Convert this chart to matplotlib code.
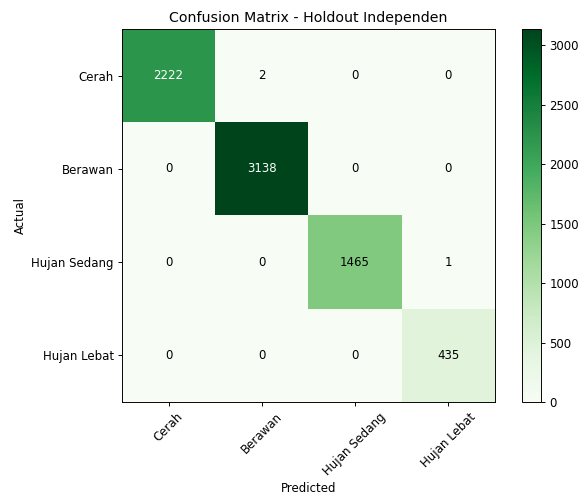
import numpy as np
import matplotlib
matplotlib.use("Agg")
import matplotlib.pyplot as plt

classes = ["Cerah", "Berawan", "Hujan Sedang", "Hujan Lebat"]
row_cerah = [2222, 2, 0, 0]
row_berawan = [0, 3138, 0, 0]
row_hujan_sedang = [0, 0, 1465, 1]
row_hujan_lebat = [0, 0, 0, 435]

cm = np.array([row_cerah, row_berawan, row_hujan_sedang, row_hujan_lebat])

DPI = 85
fig = plt.figure(figsize=(580 / DPI, 492 / DPI), dpi=DPI)
ax = fig.add_axes([0.2103, 0.183, 0.643, 0.758])
im = ax.imshow(cm, interpolation="nearest", cmap=plt.cm.Greens, aspect="auto")
ax.set_title("Confusion Matrix - Holdout Independen")

cax = fig.add_axes([0.9, 0.183, 0.033, 0.758])
fig.colorbar(im, cax=cax)

ticks = np.arange(len(classes))
ax.set_xticks(ticks)
ax.set_xticklabels(classes, rotation=45)
ax.set_yticks(ticks)
ax.set_yticklabels(classes)

thresh = cm.max() / 2.0
for i in range(cm.shape[0]):
    for j in range(cm.shape[1]):
        ax.text(j, i, format(cm[i, j], "d"), ha="center", va="center",
                color="white" if cm[i, j] > thresh else "black")

ax.set_ylabel("Actual")
ax.set_xlabel("Predicted")

fig.savefig("out.png", dpi=DPI)
